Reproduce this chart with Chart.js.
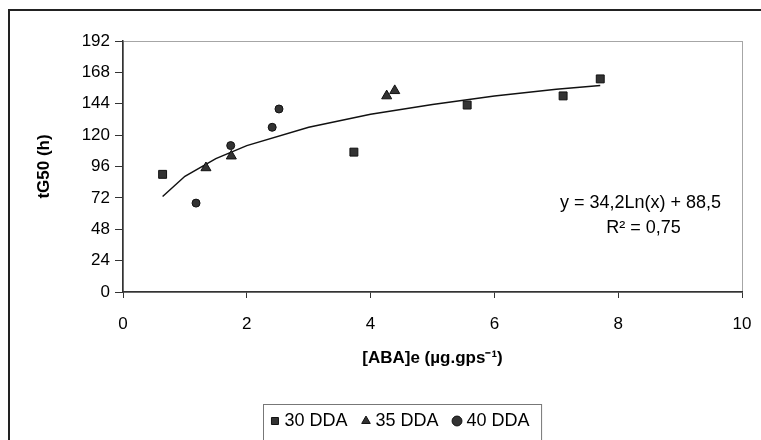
<!DOCTYPE html>
<html lang="pt">
<head>
    <meta charset="UTF-8">
    <title>tG50 vs [ABA]e</title>
    <script src="https://cdn.jsdelivr.net/npm/chart.js"></script>
    <style>
        body {
            margin: 0;
            background-color: white;
        }
        .chart-container {
            position: relative;
            width: 761px;
            height: 440px;
        }
    </style>
</head>
<body>
    <div class="chart-container">
        <canvas id="abaChart" width="761" height="440"></canvas>
    </div>

    <script>
        // Data
        const seriesNames = ['30 DDA', '35 DDA', '40 DDA'];
        const x30 = [0.64, 3.73, 5.56, 7.11, 7.71];
        const y30 = [90, 107, 143, 150, 163];
        const x35 = [1.34, 1.75, 4.26, 4.39];
        const y35 = [95, 104, 150, 154];
        const x40 = [1.18, 1.74, 2.41, 2.52];
        const y40 = [68, 112, 126, 140];

        // Trend line as drawn in the figure
        const trendX = [0.64, 1, 1.5, 2, 3, 4, 5, 6, 7, 7.71];
        const trendY = [73, 88.5, 102, 112, 126, 136, 143.5, 150, 155, 158];

        const xTicks = [0, 2, 4, 6, 8, 10];
        const yTicks = [0, 24, 48, 72, 96, 120, 144, 168, 192];
        const equation = ['y = 34,2Ln(x) + 88,5', 'R\u00B2 = 0,75'];

        const FONT = 'Liberation Sans, Arial, sans-serif';

        function toPoints(xs, ys) {
            return xs.map((x, i) => ({ x: x, y: ys[i] }));
        }

        // Frame, plot border, legend box and equation text
        const decorations = {
            id: 'decorations',
            beforeDraw(chart) {
                const ctx = chart.ctx;
                const a = chart.chartArea;
                ctx.save();
                ctx.fillStyle = 'white';
                ctx.fillRect(0, 0, chart.width, chart.height);
                // outer frame
                ctx.strokeStyle = '#222';
                ctx.lineWidth = 2;
                ctx.strokeRect(9, 10, chart.width + 20, chart.height + 20);
                // plot area border
                ctx.strokeStyle = '#a6a6a6';
                ctx.lineWidth = 1;
                ctx.strokeRect(a.left + 0.5, a.top + 0.5, a.right - a.left, a.bottom - a.top);
                ctx.restore();
            },
            afterDraw(chart) {
                const ctx = chart.ctx;
                const xs = chart.scales.x;
                const ys = chart.scales.y;
                ctx.save();
                // legend box
                const boxes = chart.legend.legendHitBoxes;
                if (boxes.length) {
                    const first = boxes[0];
                    const last = boxes[boxes.length - 1];
                    const left = first.left - 11;
                    const right = last.left + last.width + 12;
                    ctx.strokeStyle = '#777';
                    ctx.lineWidth = 1;
                    ctx.strokeRect(Math.round(left) + 0.5, chart.legend.top + 10.5, right - left, chart.height);
                }
                // equation
                ctx.fillStyle = '#000';
                ctx.font = '18px ' + FONT;
                ctx.textAlign = 'center';
                ctx.textBaseline = 'middle';
                const cx = xs.getPixelForValue(8.36);
                ctx.fillText(equation[0], cx, ys.getPixelForValue(68));
                ctx.fillText(equation[1], cx + 3, ys.getPixelForValue(49));
                ctx.restore();
            }
        };

        function initChart() {
            const ctx = document.getElementById('abaChart').getContext('2d');
            Chart.defaults.font.family = FONT;
            Chart.defaults.color = '#000';

            new Chart(ctx, {
                type: 'scatter',
                data: {
                    datasets: [{
                        label: seriesNames[0],
                        data: toPoints(x30, y30),
                        pointStyle: 'rect',
                        pointRadius: 5.6,
                        backgroundColor: '#333',
                        borderColor: '#111',
                        borderWidth: 1
                    }, {
                        label: seriesNames[1],
                        data: toPoints(x35, y35),
                        pointStyle: 'triangle',
                        pointRadius: 5.8,
                        backgroundColor: '#333',
                        borderColor: '#111',
                        borderWidth: 1
                    }, {
                        label: seriesNames[2],
                        data: toPoints(x40, y40),
                        pointStyle: 'circle',
                        pointRadius: 4,
                        backgroundColor: '#333',
                        borderColor: '#111',
                        borderWidth: 1
                    }, {
                        type: 'line',
                        label: 'trend',
                        data: toPoints(trendX, trendY),
                        borderColor: '#111',
                        borderWidth: 1.5,
                        pointRadius: 0,
                        tension: 0,
                        fill: false
                    }]
                },
                options: {
                    responsive: false,
                    animation: false,
                    devicePixelRatio: 1,
                    layout: {
                        padding: { left: 62, right: 19, top: 41, bottom: 0 }
                    },
                    plugins: {
                        tooltip: { enabled: false },
                        legend: {
                            position: 'bottom',
                            labels: {
                                usePointStyle: true,
                                boxWidth: 1,
                                boxHeight: 7,
                                padding: 18,
                                color: '#000',
                                font: { size: 18 },
                                filter: item => item.text !== 'trend'
                            }
                        }
                    },
                    scales: {
                        x: {
                            type: 'linear',
                            min: 0,
                            max: 10,
                            afterBuildTicks: axis => { axis.ticks = xTicks.map(v => ({ value: v })); },
                            ticks: { font: { size: 17, lineHeight: 2.6 }, padding: 4, color: '#000' },
                            grid: { drawOnChartArea: false, tickLength: 6, color: '#333' },
                            border: { color: '#333', width: 1.5 },
                            title: {
                                display: true,
                                text: '[ABA]e (\u00B5g.gps\u207B\u00B9)',
                                font: { size: 17, weight: 'bold' },
                                padding: { top: 4, bottom: 25 }
                            },
                            afterFit: scale => { scale.height = 102; }
                        },
                        y: {
                            min: 0,
                            max: 192,
                            afterBuildTicks: axis => { axis.ticks = yTicks.map(v => ({ value: v })); },
                            ticks: { font: { size: 17 }, padding: 5, color: '#000' },
                            grid: { drawOnChartArea: false, tickLength: 8, color: '#333' },
                            border: { color: '#333', width: 1.5 },
                            title: {
                                display: true,
                                text: 'tG50 (h)',
                                font: { size: 17, weight: 'bold' },
                                padding: { top: -28, bottom: 0 }
                            },
                            afterFit: scale => { scale.width = 61; }
                        }
                    }
                },
                plugins: [decorations]
            });
        }

        document.addEventListener('DOMContentLoaded', initChart);
    </script>
</body>
</html>
